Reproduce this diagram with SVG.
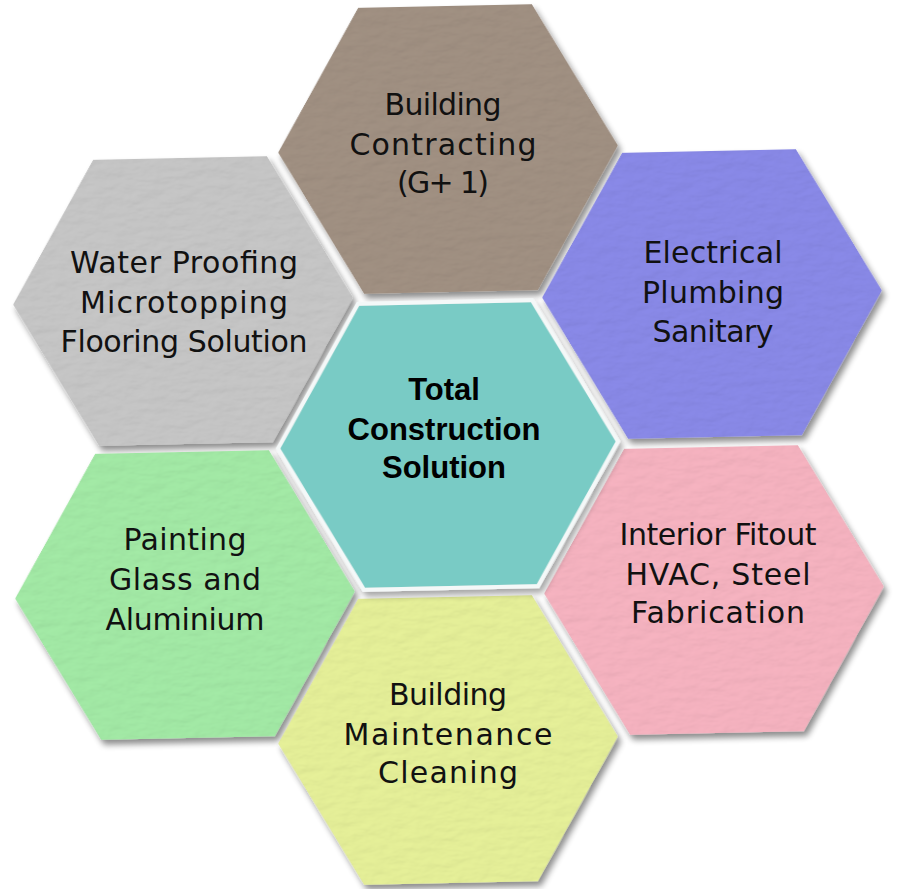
<svg xmlns="http://www.w3.org/2000/svg" xmlns:xlink="http://www.w3.org/1999/xlink" width="899" height="889" viewBox="0 0 899 889">
<style>
.lbl{font-family:"DejaVu Sans","Liberation Sans",sans-serif;font-size:30px;fill:#111;text-anchor:middle}
.ctr{font-family:"Liberation Sans","DejaVu Sans",sans-serif;font-size:31px;font-weight:bold;fill:#000;text-anchor:middle}
</style>
<defs>
<polygon id="hex" points="-170,0 -87,-143 87,-143 170,0 87,143 -87,143"/>
<filter id="tex" x="-10%" y="-10%" width="125%" height="125%">
<feTurbulence type="fractalNoise" baseFrequency="0.05 0.11" numOctaves="3" seed="4" result="n"/>
<feDiffuseLighting in="n" surfaceScale="1.6" lighting-color="#ffffff" result="lt"><feDistantLight azimuth="235" elevation="60"/></feDiffuseLighting>
<feComposite in="SourceGraphic" in2="lt" operator="arithmetic" k1="0.3" k2="0.75" k3="0" k4="0" result="tx"/>
<feComposite in="tx" in2="SourceAlpha" operator="in" result="tc"/>
<feGaussianBlur in="SourceAlpha" stdDeviation="3" result="b"/>
<feOffset in="b" dx="3" dy="5" result="ob"/>
<feComponentTransfer in="ob" result="sh"><feFuncA type="linear" slope="0.45"/></feComponentTransfer>
<feMerge><feMergeNode in="sh"/><feMergeNode in="tc"/></feMerge>
</filter>
<filter id="flat" x="-10%" y="-10%" width="125%" height="125%">
<feGaussianBlur in="SourceAlpha" stdDeviation="3" result="b"/>
<feOffset in="b" dx="3" dy="5" result="ob"/>
<feComponentTransfer in="ob" result="sh"><feFuncA type="linear" slope="0.35"/></feComponentTransfer>
<feMerge><feMergeNode in="sh"/><feMergeNode in="SourceGraphic"/></feMerge>
</filter>
</defs>
<rect width="899" height="889" fill="#ffffff"/>
<g id="connectors"></g>
<g id="node-top">
<use xlink:href="#hex" transform="translate(448,149) rotate(-1.2)" fill="#9e8e80" filter="url(#tex)"/>
<text class="lbl" x="443" y="115" textLength="117" lengthAdjust="spacing">Building</text>
<text class="lbl" x="443" y="155" textLength="187" lengthAdjust="spacing">Contracting</text>
<text class="lbl" x="443" y="193" textLength="92" lengthAdjust="spacing">(G+ 1)</text>
</g>
<g id="node-upper-left">
<use xlink:href="#hex" transform="translate(183,301) rotate(-1.2)" fill="#c3c3c3" filter="url(#tex)"/>
<text class="lbl" x="184" y="273" textLength="228" lengthAdjust="spacing">Water Proofing</text>
<text class="lbl" x="184" y="313" textLength="208" lengthAdjust="spacing">Microtopping</text>
<text class="lbl" x="184" y="352" textLength="247" lengthAdjust="spacing">Flooring Solution</text>
</g>
<g id="node-upper-right">
<use xlink:href="#hex" transform="translate(712,294) rotate(-1.2)" fill="#8787e4" filter="url(#tex)"/>
<text class="lbl" x="713" y="263" textLength="139" lengthAdjust="spacing">Electrical</text>
<text class="lbl" x="713" y="303" textLength="142" lengthAdjust="spacing">Plumbing</text>
<text class="lbl" x="713" y="342" textLength="121" lengthAdjust="spacing">Sanitary</text>
</g>
<g id="node-lower-left">
<use xlink:href="#hex" transform="translate(185,595) rotate(-1.2)" fill="#a0e6a3" filter="url(#tex)"/>
<text class="lbl" x="185" y="550" textLength="123" lengthAdjust="spacing">Painting</text>
<text class="lbl" x="185" y="590" textLength="152" lengthAdjust="spacing">Glass and</text>
<text class="lbl" x="185" y="630" textLength="159" lengthAdjust="spacing">Aluminium</text>
</g>
<g id="node-lower-right">
<use xlink:href="#hex" transform="translate(714,590) rotate(-1.2)" fill="#f2b0bd" filter="url(#tex)"/>
<text class="lbl" x="718" y="545" textLength="197" lengthAdjust="spacing">Interior Fitout</text>
<text class="lbl" x="718" y="585" textLength="185" lengthAdjust="spacing">HVAC, Steel</text>
<text class="lbl" x="718" y="623" textLength="174" lengthAdjust="spacing">Fabrication</text>
</g>
<g id="node-bottom">
<use xlink:href="#hex" transform="translate(448,740) rotate(-1.2)" fill="#e2ec96" filter="url(#tex)"/>
<text class="lbl" x="448" y="705" textLength="118" lengthAdjust="spacing">Building</text>
<text class="lbl" x="448" y="745" textLength="209" lengthAdjust="spacing">Maintenance</text>
<text class="lbl" x="448" y="783" textLength="140" lengthAdjust="spacing">Cleaning</text>
</g>
<g id="node-center">
<use xlink:href="#hex" transform="translate(448,445) rotate(-1.2)" fill="#79cbc5" stroke="#f4f8f8" stroke-width="4" filter="url(#flat)"/>
<text class="ctr" x="444" y="400">Total</text>
<text class="ctr" x="444" y="440">Construction</text>
<text class="ctr" x="444" y="478">Solution</text>
</g>
</svg>
